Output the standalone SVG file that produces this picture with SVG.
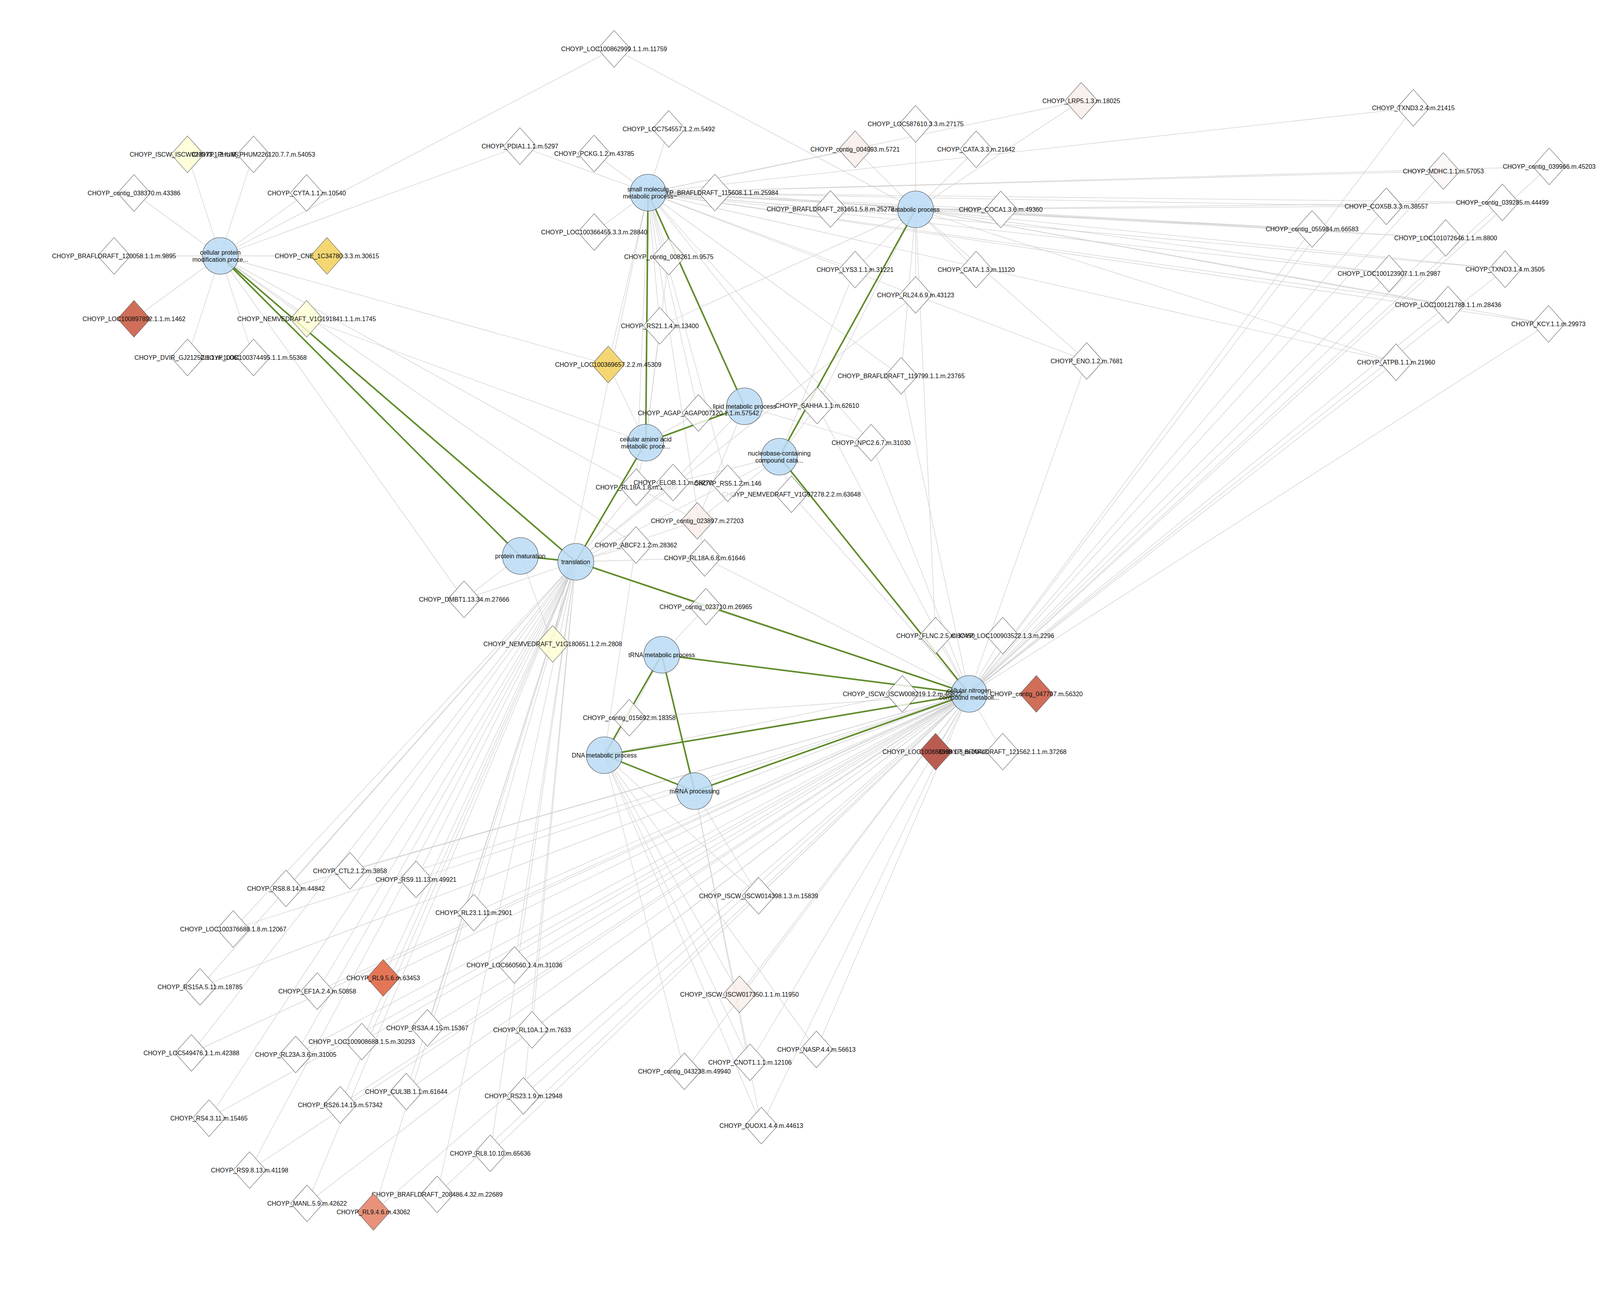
<svg xmlns="http://www.w3.org/2000/svg" width="4217" height="3330" viewBox="0 0 4217 3330">
<style>
.e{stroke:#cfcfcf;stroke-width:1.3;fill:none}
.gr{stroke:#5f8c2a;stroke-width:4;fill:none}
.d{stroke:#555;stroke-width:1.1;fill:#fff;fill-opacity:.8}
.ly{fill:#ffffd3}.gd{fill:#f3d56a;fill-opacity:.95}.pk{fill:#f9ece8}.mf{fill:#fcf6f6}
.r1{fill:#cd6650;fill-opacity:.95}.r2{fill:#b65349;fill-opacity:.95}.r3{fill:#e36f4e;fill-opacity:.95}.r4{fill:#e78c74;fill-opacity:.95}
.p{fill:#bcdcf6;fill-opacity:.88;stroke:#444;stroke-width:1.1}
text{font-family:"Liberation Sans",Arial,sans-serif;font-size:16px;text-anchor:middle;fill:#111}
</style>
<defs><path id="dm" d="M0-47L42 0 0 47-42 0Z"/></defs>
<rect width="4217" height="3330" fill="#fff"/>
<g id="edges">
<path class="e" d="M564 655L480 395"/><path class="e" d="M564 655L649 395"/><path class="e" d="M564 655L343 494"/><path class="e" d="M564 655L785 494"/><path class="e" d="M564 655L292 655"/><path class="e" d="M564 655L837 655"/><path class="e" d="M564 655L343 816"/><path class="e" d="M564 655L785 816"/><path class="e" d="M564 655L480 915"/><path class="e" d="M564 655L649 915"/><path class="e" d="M564 655L1572 125"/><path class="e" d="M564 655L1331 374"/><path class="e" d="M564 655L1557 933"/><path class="e" d="M564 655L1188 1534"/><path class="e" d="M564 655L1628 1395"/><path class="e" d="M564 655L1785 1333"/>
<path class="e" d="M1659 493L1331 374"/><path class="e" d="M1659 493L1521 393"/><path class="e" d="M1659 493L1712 330"/><path class="e" d="M1659 493L1521 594"/><path class="e" d="M1659 493L1712 657"/><path class="e" d="M1659 493L1830 493"/><path class="e" d="M1659 493L2126 535"/><path class="e" d="M1659 493L2189 382"/><path class="e" d="M1659 493L2768 258"/><path class="e" d="M1659 493L2562 536"/><path class="e" d="M1659 493L2189 690"/><path class="e" d="M1659 493L3618 276"/><path class="e" d="M1659 493L3695 438"/><path class="e" d="M1659 493L3966 426"/><path class="e" d="M1659 493L3549 528"/><path class="e" d="M1659 493L3846 518"/><path class="e" d="M1659 493L3359 586"/><path class="e" d="M1659 493L3701 609"/><path class="e" d="M1659 493L3556 700"/><path class="e" d="M1659 493L3853 689"/><path class="e" d="M1659 493L3707 780"/><path class="e" d="M1659 493L3964 829"/><path class="e" d="M1659 493L3574 927"/><path class="e" d="M1659 493L2782 924"/><path class="e" d="M1659 493L2307 962"/><path class="e" d="M1659 493L2230 1133"/><path class="e" d="M1659 493L2092 1038"/><path class="e" d="M1659 493L1689 834"/><path class="e" d="M1659 493L1557 933"/><path class="e" d="M1659 493L1788 1057"/><path class="e" d="M1659 493L1629 1247"/><path class="e" d="M1659 493L1863 1237"/><path class="e" d="M1659 493L1415 1648"/><path class="e" d="M1659 493L1804 1428"/>
<path class="e" d="M2344 536L1572 125"/><path class="e" d="M2344 536L2344 317"/><path class="e" d="M2344 536L2189 382"/><path class="e" d="M2344 536L2499 382"/><path class="e" d="M2344 536L2768 258"/><path class="e" d="M2344 536L2562 536"/><path class="e" d="M2344 536L2189 690"/><path class="e" d="M2344 536L2499 690"/><path class="e" d="M2344 536L2344 755"/><path class="e" d="M2344 536L1830 493"/><path class="e" d="M2344 536L2126 535"/><path class="e" d="M2344 536L3549 528"/><path class="e" d="M2344 536L3846 518"/><path class="e" d="M2344 536L3359 586"/><path class="e" d="M2344 536L3701 609"/><path class="e" d="M2344 536L3556 700"/><path class="e" d="M2344 536L3853 689"/><path class="e" d="M2344 536L3707 780"/><path class="e" d="M2344 536L3964 829"/><path class="e" d="M2344 536L3574 927"/><path class="e" d="M2344 536L2782 924"/><path class="e" d="M2344 536L2307 962"/><path class="e" d="M2344 536L1689 834"/><path class="e" d="M2344 536L2092 1038"/><path class="e" d="M2344 536L2395 1627"/>
<path class="e" d="M1906 1040L1788 1057"/><path class="e" d="M1906 1040L2230 1133"/><path class="e" d="M1906 1040L1723 1235"/><path class="e" d="M1906 1040L1785 1333"/><path class="e" d="M1906 1040L2092 1038"/>
<path class="e" d="M1653 1133L785 816"/><path class="e" d="M1653 1133L1712 657"/><path class="e" d="M1653 1133L1689 834"/><path class="e" d="M1653 1133L1557 933"/><path class="e" d="M1653 1133L1788 1057"/><path class="e" d="M1653 1133L1629 1247"/>
<path class="e" d="M1995 1169L2189 690"/><path class="e" d="M1995 1169L2092 1038"/><path class="e" d="M1995 1169L1723 1235"/><path class="e" d="M1995 1169L1863 1237"/><path class="e" d="M1995 1169L2026 1265"/><path class="e" d="M1995 1169L1785 1333"/>
<path class="e" d="M1332 1423L1415 1648"/><path class="e" d="M1332 1423L1188 1534"/>
<path class="e" d="M1474 1438L2344 755"/><path class="e" d="M1474 1438L1629 1247"/><path class="e" d="M1474 1438L1723 1235"/><path class="e" d="M1474 1438L1863 1237"/><path class="e" d="M1474 1438L1785 1333"/><path class="e" d="M1474 1438L1628 1395"/><path class="e" d="M1474 1438L1804 1428"/><path class="e" d="M1474 1438L1188 1534"/><path class="e" d="M1474 1438L1807 1553"/><path class="e" d="M1474 1438L1415 1648"/>
<path class="e" d="M1474 1438L896 2229"/><path class="e" d="M1474 1438L732 2274"/><path class="e" d="M1474 1438L1065 2251"/><path class="e" d="M1474 1438L1213 2336"/><path class="e" d="M1474 1438L597 2378"/><path class="e" d="M1474 1438L981 2503"/><path class="e" d="M1474 1438L1317 2470"/><path class="e" d="M1474 1438L512 2526"/><path class="e" d="M1474 1438L812 2537"/><path class="e" d="M1474 1438L1094 2631"/><path class="e" d="M1474 1438L926 2666"/><path class="e" d="M1474 1438L490 2695"/><path class="e" d="M1474 1438L757 2699"/><path class="e" d="M1474 1438L1362 2636"/><path class="e" d="M1474 1438L1040 2794"/><path class="e" d="M1474 1438L871 2828"/><path class="e" d="M1474 1438L1340 2805"/><path class="e" d="M1474 1438L535 2862"/><path class="e" d="M1474 1438L1255 2952"/><path class="e" d="M1474 1438L639 2995"/><path class="e" d="M1474 1438L786 3080"/><path class="e" d="M1474 1438L1119 3057"/><path class="e" d="M1474 1438L956 3102"/>
<path class="e" d="M1694 1676L1807 1553"/><path class="e" d="M1694 1676L1611 1837"/>
<path class="e" d="M1547 1933L1628 1395"/><path class="e" d="M1547 1933L1611 1837"/><path class="e" d="M1547 1933L2310 1776"/><path class="e" d="M1547 1933L1942 2293"/><path class="e" d="M1547 1933L1893 2545"/><path class="e" d="M1547 1933L1752 2742"/><path class="e" d="M1547 1933L1920 2719"/><path class="e" d="M1547 1933L2090 2686"/><path class="e" d="M1547 1933L1949 2881"/>
<path class="e" d="M1778 2025L1942 2293"/><path class="e" d="M1778 2025L1920 2719"/><path class="e" d="M1778 2025L1949 2881"/>
<path class="e" d="M2481 1776L3618 276"/><path class="e" d="M2481 1776L3695 438"/><path class="e" d="M2481 1776L3966 426"/><path class="e" d="M2481 1776L3549 528"/><path class="e" d="M2481 1776L3846 518"/><path class="e" d="M2481 1776L3359 586"/><path class="e" d="M2481 1776L3701 609"/><path class="e" d="M2481 1776L3556 700"/><path class="e" d="M2481 1776L3853 689"/><path class="e" d="M2481 1776L3707 780"/><path class="e" d="M2481 1776L3964 829"/><path class="e" d="M2481 1776L3574 927"/><path class="e" d="M2481 1776L2782 924"/><path class="e" d="M2481 1776L2307 962"/><path class="e" d="M2481 1776L2092 1038"/><path class="e" d="M2481 1776L2230 1133"/><path class="e" d="M2481 1776L2026 1265"/><path class="e" d="M2481 1776L1804 1428"/><path class="e" d="M2481 1776L1807 1553"/><path class="e" d="M2481 1776L1611 1837"/><path class="e" d="M2481 1776L2395 1627"/><path class="e" d="M2481 1776L2567 1627"/><path class="e" d="M2481 1776L2310 1776"/><path class="e" d="M2481 1776L2653 1776"/><path class="e" d="M2481 1776L2395 1924"/><path class="e" d="M2481 1776L2567 1924"/>
<path class="e" d="M2481 1776L896 2229"/><path class="e" d="M2481 1776L732 2274"/><path class="e" d="M2481 1776L1065 2251"/><path class="e" d="M2481 1776L1213 2336"/><path class="e" d="M2481 1776L597 2378"/><path class="e" d="M2481 1776L981 2503"/><path class="e" d="M2481 1776L1317 2470"/><path class="e" d="M2481 1776L512 2526"/><path class="e" d="M2481 1776L812 2537"/><path class="e" d="M2481 1776L1094 2631"/><path class="e" d="M2481 1776L926 2666"/><path class="e" d="M2481 1776L490 2695"/><path class="e" d="M2481 1776L757 2699"/><path class="e" d="M2481 1776L1362 2636"/><path class="e" d="M2481 1776L1040 2794"/><path class="e" d="M2481 1776L871 2828"/><path class="e" d="M2481 1776L1340 2805"/><path class="e" d="M2481 1776L535 2862"/><path class="e" d="M2481 1776L1255 2952"/><path class="e" d="M2481 1776L639 2995"/><path class="e" d="M2481 1776L786 3080"/><path class="e" d="M2481 1776L1119 3057"/><path class="e" d="M2481 1776L956 3102"/>
<path class="e" d="M2481 1776L1942 2293"/><path class="e" d="M2481 1776L1893 2545"/><path class="e" d="M2481 1776L1752 2742"/><path class="e" d="M2481 1776L1920 2719"/><path class="e" d="M2481 1776L2090 2686"/><path class="e" d="M2481 1776L1949 2881"/>
<path class="gr" d="M564 655L1332 1423"/><path class="gr" d="M564 655L1474 1438"/><path class="gr" d="M1332 1423L1474 1438"/><path class="gr" d="M1474 1438L1653 1133"/><path class="gr" d="M1474 1438L2481 1776"/><path class="gr" d="M1659 493L1653 1133"/><path class="gr" d="M1659 493L1906 1040"/><path class="gr" d="M1906 1040L1653 1133"/><path class="gr" d="M2344 536L1995 1169"/><path class="gr" d="M1995 1169L2481 1776"/><path class="gr" d="M1694 1676L2481 1776"/><path class="gr" d="M1694 1676L1547 1933"/><path class="gr" d="M1694 1676L1778 2025"/><path class="gr" d="M1547 1933L2481 1776"/><path class="gr" d="M1547 1933L1778 2025"/><path class="gr" d="M1778 2025L2481 1776"/>
</g>
<g id="processes">
<g id="p-cpm"><ellipse class="p" cx="564" cy="655" rx="46" ry="47"/><text x="564" y="652">cellular protein</text><text x="564" y="670">modification proce...</text></g>
<g id="p-cat"><ellipse class="p" cx="2344" cy="536" rx="46" ry="47"/><text x="2344" y="542">catabolic process</text></g>
<g id="p-lip"><ellipse class="p" cx="1906" cy="1040" rx="46" ry="47"/><text x="1906" y="1046">lipid metabolic process</text></g>
<g id="p-aa"><ellipse class="p" cx="1653" cy="1133" rx="46" ry="47"/><text x="1653" y="1130">cellular amino acid</text><text x="1653" y="1148">metabolic proce...</text></g>
<g id="p-nuc"><ellipse class="p" cx="1995" cy="1169" rx="46" ry="47"/><text x="1995" y="1166">nucleobase-containing</text><text x="1995" y="1184">compound cata...</text></g>
<g id="p-pm"><ellipse class="p" cx="1332" cy="1423" rx="46" ry="47"/><text x="1332" y="1429">protein maturation</text></g>
<g id="p-tr"><ellipse class="p" cx="1474" cy="1438" rx="46" ry="47"/><text x="1474" y="1444">translation</text></g>
<g id="p-trna"><ellipse class="p" cx="1694" cy="1676" rx="46" ry="47"/><text x="1694" y="1682">tRNA metabolic process</text></g>
<g id="p-dna"><ellipse class="p" cx="1547" cy="1933" rx="46" ry="47"/><text x="1547" y="1939">DNA metabolic process</text></g>
<g id="p-mrna"><ellipse class="p" cx="1778" cy="2025" rx="46" ry="47"/><text x="1778" y="2031">mRNA processing</text></g>
<g id="p-hub"><ellipse class="p" cx="2481" cy="1776" rx="46" ry="47"/><text x="2481" y="1773">cellular nitrogen</text><text x="2481" y="1791">compound metaboli...</text></g>
</g>
<g id="genes">
<g id="n1"><use href="#dm" x="480" y="395" class="d ly"/><text x="480" y="401">CHOYP_ISCW_ISCW023973.1.2.m.6508</text></g>
<g id="n2"><use href="#dm" x="649" y="395" class="d"/><text x="649" y="401">CHOYP_PHUM_PHUM226120.7.7.m.54053</text></g>
<g id="n3"><use href="#dm" x="343" y="494" class="d"/><text x="343" y="500">CHOYP_contig_038370.m.43386</text></g>
<g id="n4"><use href="#dm" x="785" y="494" class="d"/><text x="785" y="500">CHOYP_CYTA.1.1.m.10540</text></g>
<g id="n5"><use href="#dm" x="292" y="655" class="d"/><text x="292" y="661">CHOYP_BRAFLDRAFT_120058.1.1.m.9895</text></g>
<g id="n6"><use href="#dm" x="837" y="655" class="d gd"/><text x="837" y="661">CHOYP_CNE_1C34780.3.3.m.30615</text></g>
<g id="n7"><use href="#dm" x="343" y="816" class="d r1"/><text x="343" y="822">CHOYP_LOC100897892.1.1.m.1462</text></g>
<g id="n8"><use href="#dm" x="785" y="816" class="d ly"/><text x="785" y="822">CHOYP_NEMVEDRAFT_V1G191841.1.1.m.1745</text></g>
<g id="n9"><use href="#dm" x="480" y="915" class="d"/><text x="480" y="921">CHOYP_DVIR_GJ21252.1.1.m.10068</text></g>
<g id="n10"><use href="#dm" x="649" y="915" class="d"/><text x="649" y="921">CHOYP_LOC100374495.1.1.m.55368</text></g>
<g id="n11"><use href="#dm" x="1572" y="125" class="d"/><text x="1572" y="131">CHOYP_LOC100862999.1.1.m.11759</text></g>
<g id="n12"><use href="#dm" x="1712" y="330" class="d"/><text x="1712" y="336">CHOYP_LOC754557.1.2.m.5492</text></g>
<g id="n13"><use href="#dm" x="1331" y="374" class="d"/><text x="1331" y="380">CHOYP_PDIA1.1.1.m.5297</text></g>
<g id="n14"><use href="#dm" x="1521" y="393" class="d"/><text x="1521" y="399">CHOYP_PCKG.1.2.m.43785</text></g>
<g id="n15"><use href="#dm" x="2189" y="382" class="d pk"/><text x="2189" y="388">CHOYP_contig_004993.m.5721</text></g>
<g id="n16"><use href="#dm" x="1830" y="493" class="d"/><text x="1830" y="499">CHOYP_BRAFLDRAFT_115608.1.1.m.25984</text></g>
<g id="n17"><use href="#dm" x="2126" y="535" class="d"/><text x="2126" y="541">CHOYP_BRAFLDRAFT_281651.5.8.m.25278</text></g>
<g id="n18"><use href="#dm" x="1521" y="594" class="d"/><text x="1521" y="600">CHOYP_LOC100366455.3.3.m.28840</text></g>
<g id="n19"><use href="#dm" x="1712" y="657" class="d"/><text x="1712" y="663">CHOYP_contig_008261.m.9575</text></g>
<g id="n20"><use href="#dm" x="2189" y="690" class="d"/><text x="2189" y="696">CHOYP_LYS3.1.1.m.31221</text></g>
<g id="n21"><use href="#dm" x="2768" y="258" class="d pk"/><text x="2768" y="264">CHOYP_LRP5.1.3.m.18025</text></g>
<g id="n22"><use href="#dm" x="2344" y="317" class="d"/><text x="2344" y="323">CHOYP_LOC587610.3.3.m.27175</text></g>
<g id="n23"><use href="#dm" x="2499" y="382" class="d"/><text x="2499" y="388">CHOYP_CATA.3.3.m.21642</text></g>
<g id="n24"><use href="#dm" x="2562" y="536" class="d"/><text x="2562" y="542">CHOYP_COCA1.3.6.m.49360</text></g>
<g id="n25"><use href="#dm" x="2499" y="690" class="d"/><text x="2499" y="696">CHOYP_CATA.1.3.m.11120</text></g>
<g id="n26"><use href="#dm" x="2344" y="755" class="d"/><text x="2344" y="761">CHOYP_RL24.6.9.m.43123</text></g>
<g id="n27"><use href="#dm" x="3618" y="276" class="d"/><text x="3618" y="282">CHOYP_TXND3.2.4.m.21415</text></g>
<g id="n28"><use href="#dm" x="3695" y="438" class="d mf"/><text x="3695" y="444">CHOYP_MDHC.1.1.m.57053</text></g>
<g id="n29"><use href="#dm" x="3966" y="426" class="d"/><text x="3966" y="432">CHOYP_contig_039966.m.45203</text></g>
<g id="n30"><use href="#dm" x="3549" y="528" class="d"/><text x="3549" y="534">CHOYP_COX5B.3.3.m.38557</text></g>
<g id="n31"><use href="#dm" x="3846" y="518" class="d"/><text x="3846" y="524">CHOYP_contig_039285.m.44499</text></g>
<g id="n32"><use href="#dm" x="3359" y="586" class="d"/><text x="3359" y="592">CHOYP_contig_055984.m.66583</text></g>
<g id="n33"><use href="#dm" x="3701" y="609" class="d"/><text x="3701" y="615">CHOYP_LOC101072646.1.1.m.8800</text></g>
<g id="n34"><use href="#dm" x="3556" y="700" class="d"/><text x="3556" y="706">CHOYP_LOC100123907.1.1.m.2987</text></g>
<g id="n35"><use href="#dm" x="3853" y="689" class="d"/><text x="3853" y="695">CHOYP_TXND3.1.4.m.3505</text></g>
<g id="n36"><use href="#dm" x="3707" y="780" class="d"/><text x="3707" y="786">CHOYP_LOC100121788.1.1.m.28436</text></g>
<g id="n37"><use href="#dm" x="3964" y="829" class="d"/><text x="3964" y="835">CHOYP_KCY.1.1.m.29973</text></g>
<g id="n38"><use href="#dm" x="3574" y="927" class="d"/><text x="3574" y="933">CHOYP_ATPB.1.1.m.21960</text></g>
<g id="n39"><use href="#dm" x="1689" y="834" class="d"/><text x="1689" y="840">CHOYP_RS21.1.4.m.13400</text></g>
<g id="n40"><use href="#dm" x="1557" y="933" class="d gd"/><text x="1557" y="939">CHOYP_LOC100369657.2.2.m.45309</text></g>
<g id="n41"><use href="#dm" x="1788" y="1057" class="d"/><text x="1788" y="1063">CHOYP_AGAP_AGAP007120.1.1.m.57542</text></g>
<g id="n42"><use href="#dm" x="2092" y="1038" class="d"/><text x="2092" y="1044">CHOYP_SAHHA.1.1.m.62610</text></g>
<g id="n43"><use href="#dm" x="1629" y="1247" class="d"/><text x="1629" y="1253">CHOYP_RL18A.1.8.m.12900</text></g>
<g id="n44"><use href="#dm" x="1723" y="1235" class="d"/><text x="1723" y="1241">CHOYP_ELOB.1.1.m.58270</text></g>
<g id="n46"><use href="#dm" x="2026" y="1265" class="d"/><text x="2026" y="1271">CHOYP_NEMVEDRAFT_V1G97278.2.2.m.63648</text></g>
<g id="n45"><use href="#dm" x="1863" y="1237" class="d"/><text x="1863" y="1243">CHOYP_RS5.1.2.m.146</text></g>
<g id="n47"><use href="#dm" x="1785" y="1333" class="d pk"/><text x="1785" y="1339">CHOYP_contig_023897.m.27203</text></g>
<g id="n48"><use href="#dm" x="1628" y="1395" class="d"/><text x="1628" y="1401">CHOYP_ABCF2.1.2.m.28362</text></g>
<g id="n49"><use href="#dm" x="2307" y="962" class="d"/><text x="2307" y="968">CHOYP_BRAFLDRAFT_119799.1.1.m.23765</text></g>
<g id="n50"><use href="#dm" x="2782" y="924" class="d"/><text x="2782" y="930">CHOYP_ENO.1.2.m.7681</text></g>
<g id="n51"><use href="#dm" x="2230" y="1133" class="d"/><text x="2230" y="1139">CHOYP_NPC2.6.7.m.31030</text></g>
<g id="n52"><use href="#dm" x="1804" y="1428" class="d"/><text x="1804" y="1434">CHOYP_RL18A.6.8.m.61646</text></g>
<g id="n53"><use href="#dm" x="1188" y="1534" class="d"/><text x="1188" y="1540">CHOYP_DMBT1.13.34.m.27666</text></g>
<g id="n54"><use href="#dm" x="1807" y="1553" class="d"/><text x="1807" y="1559">CHOYP_contig_023710.m.26965</text></g>
<g id="n55"><use href="#dm" x="1415" y="1648" class="d ly"/><text x="1415" y="1654">CHOYP_NEMVEDRAFT_V1G180651.1.2.m.2808</text></g>
<g id="n56"><use href="#dm" x="1611" y="1837" class="d"/><text x="1611" y="1843">CHOYP_contig_015692.m.18358</text></g>
<g id="n57"><use href="#dm" x="2395" y="1627" class="d"/><text x="2395" y="1633">CHOYP_FLNC.2.5.m.37450</text></g>
<g id="n58"><use href="#dm" x="2567" y="1627" class="d"/><text x="2567" y="1633">CHOYP_LOC100903522.1.3.m.2296</text></g>
<g id="n59"><use href="#dm" x="2310" y="1776" class="d"/><text x="2310" y="1782">CHOYP_ISCW_ISCW008219.1.2.m.46822</text></g>
<g id="n60"><use href="#dm" x="2653" y="1776" class="d r1"/><text x="2653" y="1782">CHOYP_contig_047707.m.56320</text></g>
<g id="n61"><use href="#dm" x="2395" y="1924" class="d r2"/><text x="2395" y="1930">CHOYP_LOC100888608.1.3.m.20445</text></g>
<g id="n62"><use href="#dm" x="2567" y="1924" class="d"/><text x="2567" y="1930">CHOYP_BRAFLDRAFT_121562.1.1.m.37268</text></g>
<g id="n63"><use href="#dm" x="896" y="2229" class="d"/><text x="896" y="2235">CHOYP_CTL2.1.2.m.3858</text></g>
<g id="n64"><use href="#dm" x="732" y="2274" class="d"/><text x="732" y="2280">CHOYP_RS8.8.14.m.44842</text></g>
<g id="n65"><use href="#dm" x="1065" y="2251" class="d"/><text x="1065" y="2257">CHOYP_RS9.11.13.m.49921</text></g>
<g id="n66"><use href="#dm" x="1213" y="2336" class="d"/><text x="1213" y="2342">CHOYP_RL23.1.11.m.2901</text></g>
<g id="n67"><use href="#dm" x="597" y="2378" class="d"/><text x="597" y="2384">CHOYP_LOC100376688.1.8.m.12067</text></g>
<g id="n68"><use href="#dm" x="981" y="2503" class="d r3"/><text x="981" y="2509">CHOYP_RL9.5.6.m.63453</text></g>
<g id="n69"><use href="#dm" x="1317" y="2470" class="d"/><text x="1317" y="2476">CHOYP_LOC660560.1.4.m.31036</text></g>
<g id="n70"><use href="#dm" x="512" y="2526" class="d"/><text x="512" y="2532">CHOYP_RS15A.5.11.m.18785</text></g>
<g id="n71"><use href="#dm" x="812" y="2537" class="d"/><text x="812" y="2543">CHOYP_EF1A.2.4.m.50858</text></g>
<g id="n72"><use href="#dm" x="1094" y="2631" class="d"/><text x="1094" y="2637">CHOYP_RS3A.4.15.m.15367</text></g>
<g id="n73"><use href="#dm" x="926" y="2666" class="d"/><text x="926" y="2672">CHOYP_LOC100908688.1.5.m.30293</text></g>
<g id="n74"><use href="#dm" x="490" y="2695" class="d"/><text x="490" y="2701">CHOYP_LOC549476.1.1.m.42388</text></g>
<g id="n75"><use href="#dm" x="757" y="2699" class="d"/><text x="757" y="2705">CHOYP_RL23A.3.6.m.31005</text></g>
<g id="n76"><use href="#dm" x="1362" y="2636" class="d"/><text x="1362" y="2642">CHOYP_RL10A.1.2.m.7633</text></g>
<g id="n77"><use href="#dm" x="1040" y="2794" class="d"/><text x="1040" y="2800">CHOYP_CUL3B.1.1.m.61644</text></g>
<g id="n78"><use href="#dm" x="871" y="2828" class="d"/><text x="871" y="2834">CHOYP_RS26.14.15.m.57342</text></g>
<g id="n79"><use href="#dm" x="1340" y="2805" class="d"/><text x="1340" y="2811">CHOYP_RS23.1.9.m.12948</text></g>
<g id="n80"><use href="#dm" x="535" y="2862" class="d"/><text x="535" y="2868">CHOYP_RS4.3.11.m.15465</text></g>
<g id="n81"><use href="#dm" x="1255" y="2952" class="d"/><text x="1255" y="2958">CHOYP_RL8.10.10.m.65636</text></g>
<g id="n82"><use href="#dm" x="639" y="2995" class="d"/><text x="639" y="3001">CHOYP_RS9.8.13.m.41198</text></g>
<g id="n83"><use href="#dm" x="786" y="3080" class="d"/><text x="786" y="3086">CHOYP_MANL.5.9.m.42622</text></g>
<g id="n84"><use href="#dm" x="1119" y="3057" class="d"/><text x="1119" y="3063">CHOYP_BRAFLDRAFT_208486.4.32.m.22689</text></g>
<g id="n85"><use href="#dm" x="956" y="3102" class="d r4"/><text x="956" y="3108">CHOYP_RL9.4.6.m.43062</text></g>
<g id="n86"><use href="#dm" x="1942" y="2293" class="d"/><text x="1942" y="2299">CHOYP_ISCW_ISCW014398.1.3.m.15839</text></g>
<g id="n87"><use href="#dm" x="1893" y="2545" class="d pk"/><text x="1893" y="2551">CHOYP_ISCW_ISCW017350.1.1.m.11950</text></g>
<g id="n88"><use href="#dm" x="1752" y="2742" class="d"/><text x="1752" y="2748">CHOYP_contig_043238.m.49940</text></g>
<g id="n89"><use href="#dm" x="1920" y="2719" class="d"/><text x="1920" y="2725">CHOYP_CNOT1.1.1.m.12106</text></g>
<g id="n90"><use href="#dm" x="2090" y="2686" class="d"/><text x="2090" y="2692">CHOYP_NASP.4.4.m.56613</text></g>
<g id="n91"><use href="#dm" x="1949" y="2881" class="d"/><text x="1949" y="2887">CHOYP_DUOX1.4.4.m.44613</text></g>
</g>
<g id="p-sm"><ellipse class="p" cx="1659" cy="493" rx="46" ry="47"/><text x="1659" y="490">small molecule</text><text x="1659" y="508">metabolic process</text></g>
</svg>
